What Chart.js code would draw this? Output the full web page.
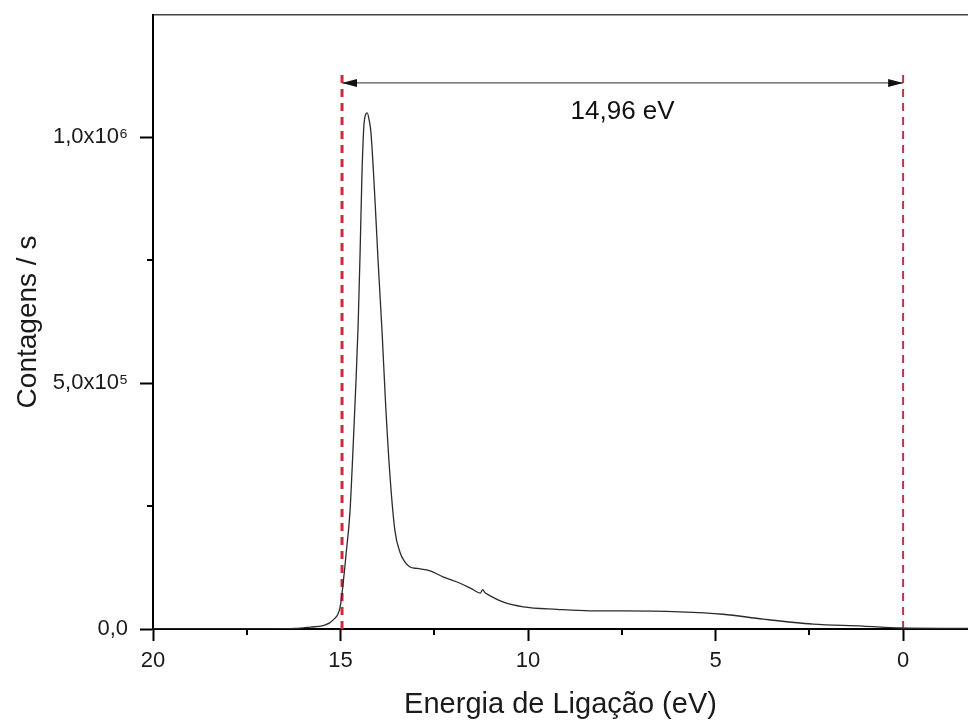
<!DOCTYPE html>
<html>
<head>
<meta charset="utf-8">
<title>Contagens / s vs Energia de Ligação</title>
<script src="https://cdn.jsdelivr.net/npm/chart.js@4.4.1/dist/chart.umd.min.js"></script>
<style>
  html, body { margin: 0; padding: 0; background: #fff; overflow: hidden; }
  #wrap { width: 968px; height: 720px; }
</style>
</head>
<body>
<div id="wrap"><canvas id="spectrumChart"></canvas></div>
<script>
const energy = [
  20, 17, 16.2, 15.8, 15.47, 15.2, 15.01, 14.93, 14.85, 14.75,
  14.67, 14.59, 14.53, 14.48, 14.43, 14.38, 14.33, 14.29, 14.24, 14.19,
  14.08, 14.0, 13.89, 13.8, 13.68, 13.55, 13.41, 13.3, 13.15, 12.96,
  12.61, 12.27, 11.81, 11.49, 11.27, 11.21, 11.15, 11.09, 10.67, 10.13,
  9.23, 8.35, 7.47, 5.95, 4.8, 3.73, 2.4, 1.07, 0.08, -1.73
];

// Counts per second at each energy above
const counts = [
  0, 0, 1000, 4000, 7000, 18000, 45000, 93000, 154000, 236000,
  360000, 500000, 620000, 760000, 920000, 1020000, 1046000, 1049000, 1036000, 1010000,
  870000, 750000, 600000, 460000, 310000, 200000, 155000, 138000, 126000, 123000,
  118000, 106000, 93000, 81000, 73000, 80000, 74000, 71000, 55000, 45000,
  40000, 37000, 37000, 35000, 30000, 20000, 10000, 6000, 2000, 1000
];

const xMajorTicks = [20, 15, 10, 5, 0];
const xMinorTicks = [17.5, 12.5, 7.5, 2.5];
const yMajorTicks = [0, 500000, 1000000];
const yTickLabels = ["0,0", "5,0x10⁵", "1,0x10⁶"];
const yMinorTicks = [250000, 750000];

// the gap marked by the two dashed lines
const gapStart = 14.96;
const gapEnd = 0;
const gapLabel = "14,96 eV";

const FONT = "'Liberation Sans', Arial, Helvetica, sans-serif";

// where the markers sit (in data units)
const markerTop = 1136000;
const arrowLevel = 1110000;
const labelLevel = 1051000;

// minor ticks, arrow heads and the gap label
const extrasPlugin = {
  id: "extras",
  afterDraw(chart) {
    const { ctx } = chart;
    const x = chart.scales.x;
    const y = chart.scales.y;
    ctx.save();

    ctx.strokeStyle = "#000";
    ctx.lineWidth = 2;
    xMinorTicks.forEach((v) => {
      const px = Math.round(x.getPixelForValue(v));
      ctx.beginPath();
      ctx.moveTo(px, y.bottom);
      ctx.lineTo(px, y.bottom + 6);
      ctx.stroke();
    });
    yMinorTicks.forEach((v) => {
      const py = Math.round(y.getPixelForValue(v));
      ctx.beginPath();
      ctx.moveTo(x.left, py);
      ctx.lineTo(x.left - 6, py);
      ctx.stroke();
    });

    const ay = y.getPixelForValue(arrowLevel);
    const x1 = x.getPixelForValue(gapStart);
    const x2 = x.getPixelForValue(gapEnd);
    ctx.fillStyle = "#111";
    ctx.beginPath();
    ctx.moveTo(x1, ay);
    ctx.lineTo(x1 + 15, ay - 4);
    ctx.lineTo(x1 + 15, ay + 4);
    ctx.closePath();
    ctx.fill();
    ctx.beginPath();
    ctx.moveTo(x2, ay);
    ctx.lineTo(x2 - 15, ay - 4);
    ctx.lineTo(x2 - 15, ay + 4);
    ctx.closePath();
    ctx.fill();

    ctx.font = "26px " + FONT;
    ctx.textAlign = "center";
    ctx.textBaseline = "middle";
    ctx.fillText(gapLabel, (x1 + x2) / 2, y.getPixelForValue(labelLevel));
    ctx.restore();
  }
};

const spectrum = energy.map((e, i) => ({ x: e, y: counts[i] }));

const ctx = document.getElementById("spectrumChart").getContext("2d");
new Chart(ctx, {
  type: "line",
  data: {
    datasets: [
      {
        label: "Espectro",
        data: spectrum,
        borderColor: "#2b2b2b",
        borderWidth: 1.3,
        pointRadius: 0,
        cubicInterpolationMode: "monotone",
        fill: false,
      },
      {
        label: "Início",
        data: [{ x: gapStart, y: 0 }, { x: gapStart, y: markerTop }],
        borderColor: "#d0283c",
        borderWidth: 3,
        borderDash: [8, 6],
        pointRadius: 0,
      },
      {
        label: "Fim",
        data: [{ x: gapEnd, y: 0 }, { x: gapEnd, y: markerTop }],
        borderColor: "#b03a4c",
        borderWidth: 2,
        borderDash: [8, 6],
        pointRadius: 0,
      },
      {
        label: "Intervalo",
        data: [{ x: gapStart, y: arrowLevel }, { x: gapEnd, y: arrowLevel }],
        borderColor: "#555",
        borderWidth: 1.2,
        pointRadius: 0,
      },
    ],
  },
  options: {
    responsive: true,
    maintainAspectRatio: false,
    animation: false,
    devicePixelRatio: 1,
    layout: { padding: { top: 15, right: 0, bottom: 0, left: 0 } },
    plugins: {
      legend: { display: false },
      tooltip: { enabled: false },
    },
    scales: {
      x: {
        type: "linear",
        reverse: true,
        min: -1.73,
        max: 20,
        afterBuildTicks: (scale) => {
          scale.ticks = xMajorTicks.map((v) => ({ value: v }));
        },
        afterFit: (scale) => { scale.height = 91; },
        ticks: {
          color: "#1a1a1a",
          font: { family: FONT, size: 22 },
          padding: 7,
          maxRotation: 0,
          callback: (value) => String(value),
        },
        grid: {
          drawOnChartArea: false,
          drawTicks: true,
          tickLength: 12,
          tickWidth: 2,
          tickColor: "#000",
        },
        border: { display: true, color: "#000", width: 2 },
        title: {
          display: true,
          text: "Energia de Ligação (eV)",
          color: "#1a1a1a",
          font: { family: FONT, size: 29 },
          padding: { top: 0, bottom: -2 },
        },
      },
      xTop: {
        type: "linear",
        position: "top",
        reverse: true,
        min: -1.73,
        max: 20,
        afterFit: (scale) => {
          scale.height = 0;
          scale.paddingLeft = 0;
          scale.paddingRight = 0;
        },
        ticks: { display: false },
        grid: { display: false, drawTicks: false },
        border: { display: true, color: "#444", width: 1.5 },
      },
      y: {
        type: "linear",
        min: 0,
        max: 1248000,
        afterBuildTicks: (scale) => {
          scale.ticks = yMajorTicks.map((v) => ({ value: v }));
        },
        afterFit: (scale) => {
          scale.width = 153;
          scale.paddingTop = 0;
          scale.paddingBottom = 0;
        },
        ticks: {
          color: "#1a1a1a",
          font: { family: FONT, size: 22 },
          padding: 12,
          callback: (value) => yTickLabels[yMajorTicks.indexOf(value)],
        },
        grid: {
          drawOnChartArea: false,
          drawTicks: true,
          tickLength: 13,
          tickWidth: 2,
          tickColor: "#000",
        },
        border: { display: true, color: "#000", width: 2 },
        title: {
          display: true,
          text: "Contagens / s",
          color: "#1a1a1a",
          font: { family: FONT, size: 28 },
          padding: { top: 11, bottom: 0 },
        },
      },
    },
  },
  plugins: [extrasPlugin],
});
</script>
</body>
</html>
